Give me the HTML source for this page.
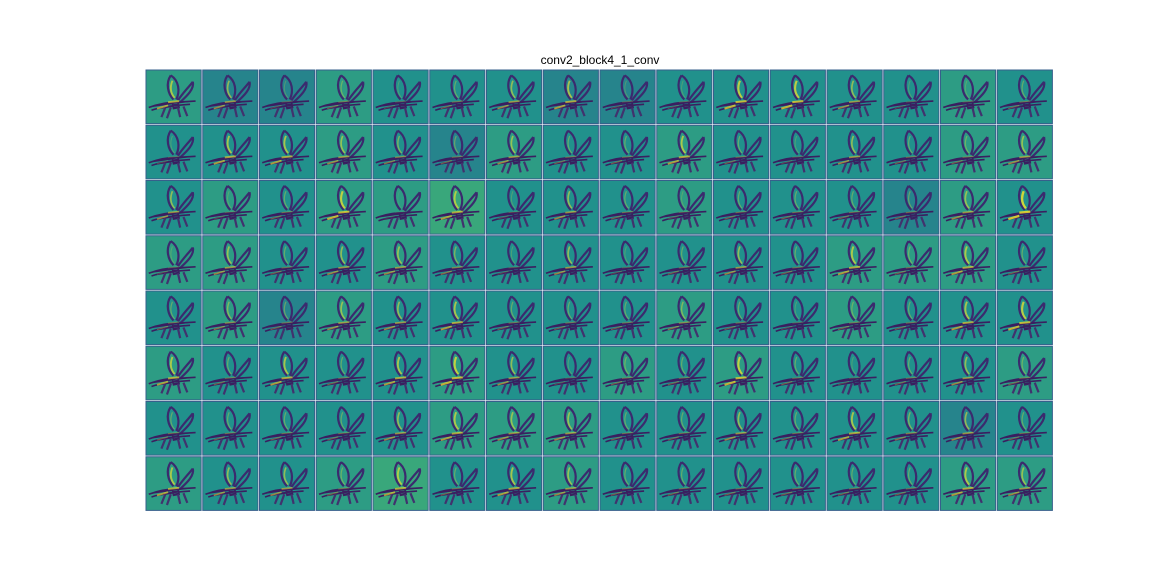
<!DOCTYPE html>
<html><head><meta charset="utf-8"><style>
html,body{margin:0;padding:0;background:#fff;}
#wrap{position:relative;width:1171px;height:585px;overflow:hidden;}
#title{position:absolute;left:0;width:1200px;top:53px;text-align:center;font:12px "Liberation Sans","DejaVu Sans",sans-serif;color:#000;}
</style></head><body>
<div id="wrap">
<div id="title">conv2_block4_1_conv</div>
<svg id="grid" width="1171" height="585" style="position:absolute;left:0;top:0">
<defs>
<g id="bird">
<path d="M45 10 C35 25 40 45 50 55 M45 10 C60 20 62 40 55 55 M85 22 C75 35 65 45 58 57 M85 22 C88 35 75 48 62 60" fill="none" stroke="#3b2a6e" stroke-width="4"/>
<path d="M5 70 C25 62 40 60 55 60 L90 58 M10 75 C30 68 50 66 80 64 M48 62 L50 72 L60 70 L58 60 Z" fill="#3a1f60" stroke="#3a1f60" stroke-width="3"/>
<path d="M35 70 L28 88 M45 70 L38 90 M58 70 L62 88 M68 68 L75 86" stroke="#41326e" stroke-width="4" fill="none"/>
</g>
</defs>
</svg>
</div>
<script>
const ncols = 16, nrows = 8;
// estimated background level (viridis position) per tile, row-major
const bgLevels = [
0.55,0.45,0.45,0.55,0.5,0.5,0.5,0.45,0.45,0.5,0.5,0.5,0.5,0.5,0.55,0.5,
0.5,0.5,0.5,0.55,0.5,0.45,0.55,0.5,0.5,0.55,0.5,0.5,0.5,0.5,0.55,0.55,
0.5,0.55,0.5,0.55,0.55,0.6,0.5,0.5,0.5,0.55,0.5,0.5,0.5,0.45,0.55,0.5,
0.55,0.55,0.5,0.5,0.55,0.5,0.5,0.5,0.5,0.5,0.5,0.5,0.55,0.55,0.55,0.5,
0.5,0.55,0.45,0.55,0.5,0.5,0.5,0.5,0.5,0.55,0.5,0.5,0.55,0.5,0.5,0.5,
0.55,0.5,0.5,0.5,0.5,0.55,0.5,0.5,0.55,0.5,0.55,0.5,0.5,0.5,0.5,0.55,
0.5,0.5,0.5,0.5,0.5,0.55,0.55,0.55,0.5,0.5,0.5,0.5,0.5,0.5,0.45,0.5,
0.55,0.5,0.5,0.55,0.6,0.5,0.5,0.55,0.5,0.5,0.5,0.5,0.5,0.5,0.55,0.55];
// estimated amount of bright (yellow) activation per tile
const hiLevels = [
0.6,0.5,0.2,0.3,0.2,0.3,0.5,0.6,0.2,0.2,0.7,0.7,0.5,0.2,0.2,0.3,
0.2,0.6,0.6,0.5,0.4,0.3,0.5,0.3,0.3,0.6,0.3,0.2,0.5,0.3,0.3,0.5,
0.5,0.2,0.3,0.7,0.1,0.6,0.2,0.5,0.3,0.2,0.3,0.3,0.3,0.3,0.5,0.8,
0.2,0.5,0.3,0.5,0.5,0.4,0.2,0.5,0.2,0.3,0.5,0.3,0.6,0.3,0.6,0.3,
0.3,0.4,0.3,0.5,0.5,0.6,0.3,0.3,0.3,0.4,0.3,0.2,0.3,0.3,0.6,0.7,
0.6,0.3,0.6,0.3,0.6,0.7,0.5,0.2,0.3,0.3,0.7,0.3,0.2,0.3,0.5,0.3,
0.3,0.3,0.3,0.3,0.5,0.6,0.5,0.5,0.3,0.3,0.5,0.3,0.6,0.4,0.5,0.3,
0.6,0.5,0.5,0.3,0.6,0.3,0.6,0.5,0.3,0.3,0.3,0.3,0.3,0.3,0.6,0.5];
const gridLeft = 146, gridTop = 70, gridRight = 1054, gridBottom = 512;
const pitchX = (gridRight - gridLeft) / ncols, pitchY = (gridBottom - gridTop) / nrows;
const tileW = pitchX - 1.6, tileH = pitchY - 1.6;
const stops = [[0,[68,1,84]],[0.25,[59,82,139]],[0.5,[33,145,140]],[0.75,[94,201,98]],[1,[253,231,37]]];
function viridis(t){
  for(let i=1;i<stops.length;i++){ if(t<=stops[i][0]){const a=stops[i-1],b=stops[i];const f=(t-a[0])/(b[0]-a[0]);
    return 'rgb('+a[1].map((v,k)=>Math.round(v+(b[1][k]-v)*f)).join(',')+')';}}
  return 'rgb(253,231,37)';
}
const NS='http://www.w3.org/2000/svg';
const svgEl=document.getElementById('grid');
for(let i=0;i<bgLevels.length;i++){
  const c=i%ncols, r=Math.floor(i/ncols);
  const x=gridLeft+c*pitchX, y=gridTop+r*pitchY;
  const g=document.createElementNS(NS,'g');
  
  
  g.setAttribute('transform','translate('+x.toFixed(2)+','+y.toFixed(2)+')');
  const rect=document.createElementNS(NS,'rect');
  rect.setAttribute('width',tileW.toFixed(2));rect.setAttribute('height',tileH.toFixed(2));
  rect.setAttribute('fill',viridis(bgLevels[i]));
  rect.setAttribute('stroke',viridis(0.3));rect.setAttribute('stroke-width','1');
  g.appendChild(rect);
  const inner=document.createElementNS(NS,'g');
  inner.setAttribute('transform','scale('+(tileW/100).toFixed(3)+','+(tileH/100).toFixed(3)+')');
  const u=document.createElementNS(NS,'use');
  u.setAttribute('href','#bird');
  inner.appendChild(u);
  const hl=document.createElementNS(NS,'path');
  hl.setAttribute('d','M40 60 L60 58 M48 20 C42 35 46 45 52 52 M20 72 L40 66');
  hl.setAttribute('stroke','#fde725');hl.setAttribute('fill','none');
  hl.setAttribute('stroke-width',(1+hiLevels[i]*4).toFixed(1));
  hl.setAttribute('opacity',hiLevels[i].toFixed(2));
  inner.appendChild(hl);
  g.appendChild(inner);
  svgEl.appendChild(g);
}
</script>
</body></html>
